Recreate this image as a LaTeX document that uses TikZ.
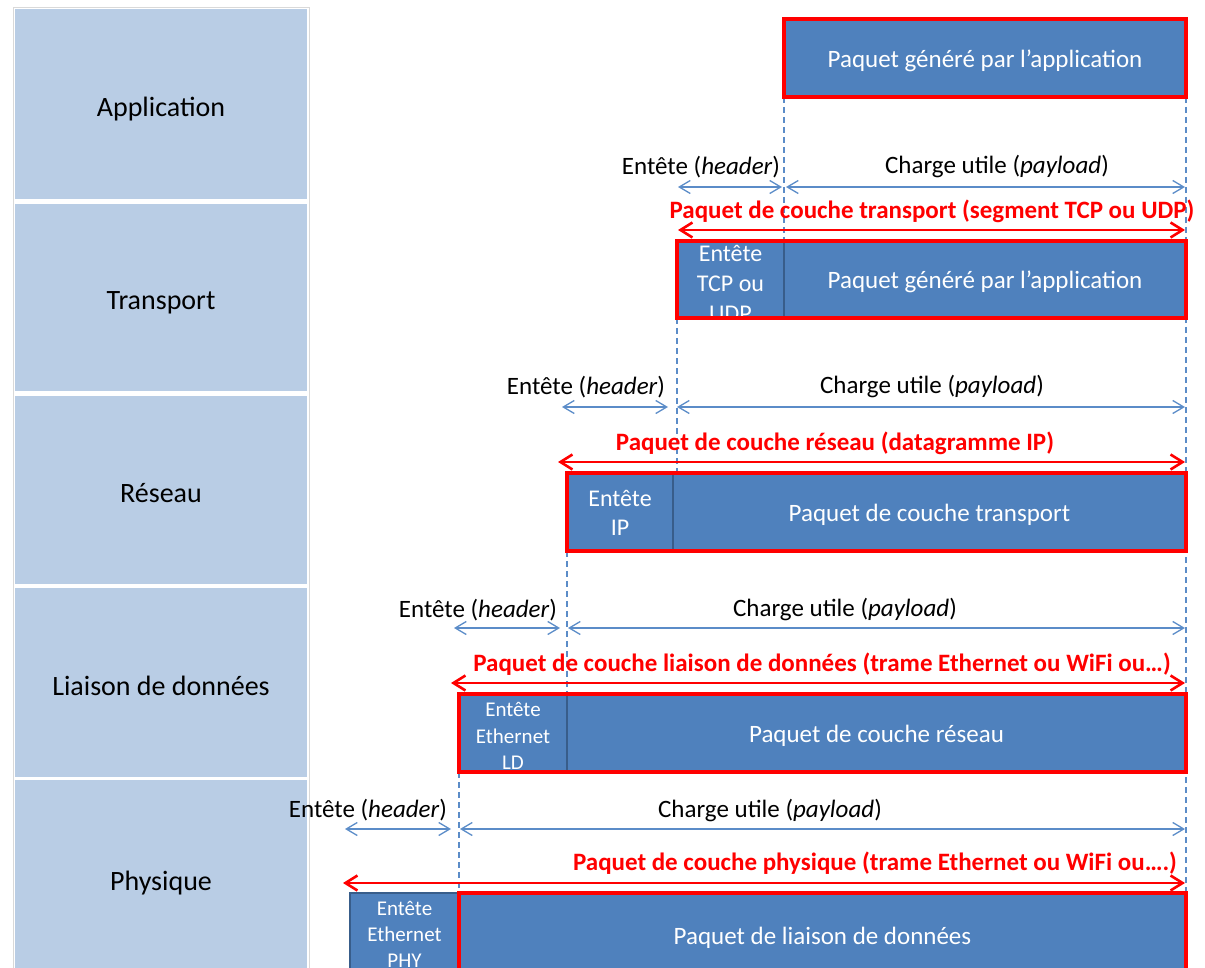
\documentclass[tikz,border=0pt]{standalone}
\usepackage{fontspec}
\setmainfont{Carlito}
\usetikzlibrary{arrows.meta}
\definecolor{layerfill}{HTML}{B9CDE5}
\definecolor{pktfill}{HTML}{4F81BD}
\definecolor{pktedge}{HTML}{385D8A}
\definecolor{guideblue}{HTML}{5B8CC8}
\definecolor{framered}{HTML}{FF0000}
\pgfdeclarelayer{bg}
\pgfsetlayers{bg,main}
\begin{document}
\begin{tikzpicture}[x=1pt,y=-1pt,
  layer/.style={fill=layerfill, draw=none, minimum width=292, anchor=north west,
    inner sep=0, outer sep=0, text=black, font=\fontsize{28}{32}\selectfont,
    text height=30pt, text depth=5pt},
  pkt/.style={fill=pktfill, draw=none, anchor=north west, inner sep=0, outer sep=0,
    text=white, font=\fontsize{25}{30}\selectfont, text height=24pt, text depth=5pt},
  hdrtxt/.style={text=white, align=center, inner sep=0},
  redframe/.style={draw=framered, line width=3.5pt},
  divider/.style={draw=pktedge, line width=2pt},
  guide/.style={draw=guideblue, line width=1.3pt, dash pattern=on 6pt off 4pt},
  span/.style={draw=guideblue, line width=1.3pt, {Straight Barb[length=11pt,width=13pt]}-{Straight Barb[length=11pt,width=13pt]}},
  bigspan/.style={draw=framered, line width=2.6pt, {Straight Barb[length=12pt,width=15pt]}-{Straight Barb[length=12pt,width=15pt]}},
  lbl/.style={text=black, inner sep=0, font=\fontsize{25}{30}\selectfont},
  redlbl/.style={text=framered, inner sep=0, font=\bfseries\fontsize{25}{30}\selectfont}
]
\useasboundingbox (0,0) rectangle (1205,968);

% layer column
\draw[black!15, line width=0.8pt] (13,7) rectangle (309,980);
\node[layer, minimum height=190] (Lapp) at (15,9)   {Application};
\node[layer, minimum height=187] (Ltrp) at (15,204) {Transport};
\node[layer, minimum height=188] (Lnet) at (15,396) {Réseau};
\node[layer, minimum height=189] (Llnk) at (15,588) {Liaison de données};
\node[layer, minimum height=195] (Lphy) at (15,780) {Physique};

% application packet
\node[pkt, minimum width=402, minimum height=78] (app) at (784,19) {Paquet généré par l’application};
\draw[redframe] (app.north west) rectangle (app.south east);

% transport segment
\node[pkt, minimum width=107, minimum height=77] (tph) at (677,241) {};
\node[pkt, minimum width=402, minimum height=77] (tpp) at (784,241) {Paquet généré par l’application};
\begin{scope}
  \clip (tph.north west) rectangle (tph.south east);
  \node[hdrtxt, font=\fontsize{24}{30}\selectfont] (tpht) at ([yshift=-4]tph.center) {Entête\\TCP ou\\UDP};
\end{scope}
\draw[divider] (tph.north east) -- (tph.south east);
\draw[redframe] (tph.north west) rectangle (tpp.south east);

% network datagram
\node[pkt, minimum width=106, minimum height=78] (nh) at (567,473) {};
\node[pkt, minimum width=513, minimum height=78] (np) at (673,473) {Paquet de couche transport};
\begin{scope}
  \clip (nh.north west) rectangle (nh.south east);
  \node[hdrtxt, font=\fontsize{24}{29}\selectfont] (nht) at ([yshift=-1]nh.center) {Entête\\IP};
\end{scope}
\draw[divider] (nh.north east) -- (nh.south east);
\draw[redframe] (nh.north west) rectangle (np.south east);

% data link frame
\node[pkt, minimum width=108, minimum height=78] (lh) at (459,694) {};
\node[pkt, minimum width=619, minimum height=78] (lp) at (567,694) {Paquet de couche réseau};
\begin{scope}
  \clip (lh.north west) rectangle (lh.south east);
  \node[hdrtxt, font=\fontsize{21}{26.5}\selectfont] (lht) at ([yshift=-3]lh.center) {Entête\\Ethernet\\LD};
\end{scope}
\draw[divider] (lh.north east) -- (lh.south east);
\draw[redframe] (lh.north west) rectangle (lp.south east);

% physical frame
\node[pkt, draw=pktedge, line width=1.5pt, minimum width=109, minimum height=82] (ph) at (350,893) {};
\node[pkt, minimum width=727, minimum height=82] (pp) at (459,893) {};
\node[pkt, anchor=center] (ppt) at ([yshift=-1]pp.center) {Paquet de liaison de données};
\begin{scope}
  \clip (ph.north west) rectangle (ph.south east);
  \node[hdrtxt, font=\fontsize{21}{26}\selectfont] (pht) at (ph.center) {Entête\\Ethernet\\PHY};
\end{scope}
\draw[redframe] (pp.north west) rectangle (pp.south east);

% boundary guides
\begin{pgfonlayer}{bg}
  \draw[guide] (app.south west) -- (tpp.north west);
  \draw[guide] (app.south east) -- (pp.north east);
  \draw[guide] (tph.south west) -- (tph.south west |- np.north);
  \draw[guide] (nh.south west) -- (lh.north east);
  \draw[guide] (lh.south west) -- (pp.north west);
\end{pgfonlayer}

% header / payload spans
\coordinate (a1) at (678,187);  \coordinate (b1) at (782,187);
\coordinate (c1) at (786,187);  \coordinate (d1) at (1185,187);
\coordinate (a2) at (562,407);  \coordinate (b2) at (668,407);
\coordinate (c2) at (677,407);  \coordinate (d2) at (1185,407);
\coordinate (a3) at (454,628);  \coordinate (b3) at (560,628);
\coordinate (c3) at (568,628);  \coordinate (d3) at (1185,628);
\coordinate (a4) at (345,829);  \coordinate (b4) at (451,829);
\coordinate (c4) at (460,829);  \coordinate (d4) at (1185,829);
\draw[span] (a1) -- (b1);  \draw[span] (c1) -- (d1);
\draw[span] (a2) -- (b2);  \draw[span] (c2) -- (d2);
\draw[span] (a3) -- (b3);  \draw[span] (c3) -- (d3);
\draw[span] (a4) -- (b4);  \draw[span] (c4) -- (d4);

% whole packet spans
\coordinate (r1a) at (678,230);  \coordinate (r1b) at (1185,230);
\coordinate (r2a) at (558,462);  \coordinate (r2b) at (1185,462);
\coordinate (r3a) at (451,683);  \coordinate (r3b) at (1185,683);
\coordinate (r4a) at (343,883);  \coordinate (r4b) at (1185,883);
\draw[bigspan] (r1a) -- (r1b);
\draw[bigspan] (r2a) -- (r2b);
\draw[bigspan] (r3a) -- (r3b);
\draw[bigspan] (r4a) -- (r4b);

% labels
\node[lbl] (h1) at (701,167) {Entête (\textit{header})};
\node[lbl] (p1) at (997,167) {Charge utile (\textit{payload})};
\node[lbl] (h2) at (586,387) {Entête (\textit{header})};
\node[lbl] (p2) at (932,387) {Charge utile (\textit{payload})};
\node[lbl] (h3) at (478,610) {Entête (\textit{header})};
\node[lbl] (p3) at (845,610) {Charge utile (\textit{payload})};
\node[lbl] (h4) at (368,810) {Entête (\textit{header})};
\node[lbl] (p4) at (770,810) {Charge utile (\textit{payload})};

\node[redlbl] (t1) at (932,211) {Paquet de couche transport (segment TCP ou UDP)};
\node[redlbl] (t2) at (835,443) {Paquet de couche réseau (datagramme IP)};
\node[redlbl] (t3) at (822,664) {Paquet de couche liaison de données (trame Ethernet ou WiFi ou…)};
\node[redlbl] (t4) at (875,863) {Paquet de couche physique (trame Ethernet ou WiFi ou….)};
\end{tikzpicture}
\end{document}
